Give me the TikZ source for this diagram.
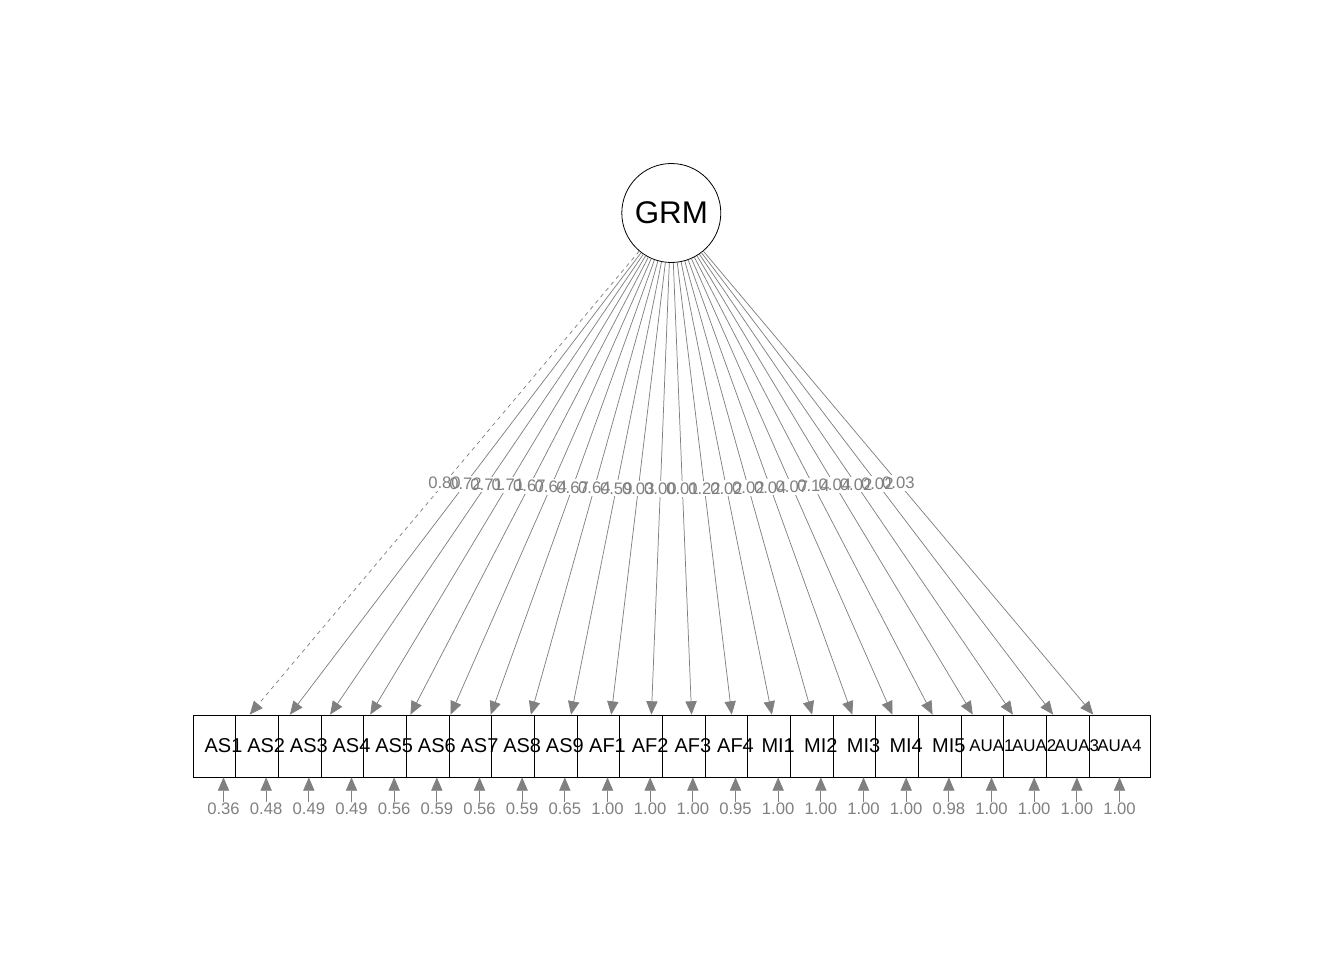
\documentclass[tikz,border=0pt]{standalone}
\usepackage{fontspec}
\setmainfont{Liberation Sans}
\usetikzlibrary{arrows.meta}
\definecolor{edgegray}{RGB}{128,128,128}
\begin{document}
\begin{tikzpicture}[x=0.75pt,y=-0.75pt,
  box/.style={draw=black, fill=white, line width=0.6pt, minimum width=45.75pt, minimum height=46.5pt, inner sep=0pt},
  lat/.style={draw=black, fill=white, circle, line width=0.6pt, minimum size=74.25pt, inner sep=0pt, font=\fontsize{23.5}{28}\selectfont},
  edge/.style={draw=edgegray, line width=0.55pt, -{Triangle[length=10pt,width=8.5pt]}},
  elab/.style={text=edgegray, font=\fontsize{12.5}{15}\selectfont, inner sep=1pt},
  elabbg/.style={fill=white, font=\fontsize{12.5}{15}\selectfont, inner sep=1.5pt},
  blab/.style={inner sep=0pt, font=\fontsize{15}{18}\selectfont},
  blabs/.style={inner sep=0pt, font=\fontsize{12.7}{15}\selectfont}
]
\useasboundingbox (0,0) rectangle (1344,960);
\node[lat] (grm) at (671.3,213) {GRM};
% boxes
\foreach \i in {1,...,22}{
  \pgfmathsetmacro\xx{223.5+42.667*(\i-1)}
  \node[box] (b\i) at (\xx,746) {};
}
% edges
\foreach \i in {1,...,22}{
  \path (grm) -- (b\i) coordinate[pos=0.5] (m\i);
}
\draw[edge, dash pattern=on 3pt off 3pt] (grm) -- (b1);
\foreach \i in {2,...,22}{
  \draw[edge] (grm) -- (b\i);
}
% edge label backgrounds
\foreach \i/\l in {1/0.80,2/0.72,3/0.71,4/0.71,5/0.67,6/0.64,7/0.67,8/0.64,9/0.59,10/0.03,11/0.00,12/0.01,13/0.22,14/0.02,15/0.02,16/0.04,17/0.07,18/0.14,19/0.04,20/0.02,21/0.02,22/0.03}{
  \node[elabbg] (g\i) at (m\i) {\phantom{\l}};
}
% edge labels
\foreach \i/\l in {1/0.80,2/0.72,3/0.71,4/0.71,5/0.67,6/0.64,7/0.67,8/0.64,9/0.59,10/0.03,11/0.00,12/0.01,13/0.22,14/0.02,15/0.02,16/0.04,17/0.07,18/0.14,19/0.04,20/0.02,21/0.02,22/0.03}{
  \node[elab] (e\i) at (m\i) {\l};
}
% box labels
\foreach \i/\t in {1/AS1,2/AS2,3/AS3,4/AS4,5/AS5,6/AS6,7/AS7,8/AS8,9/AS9,10/AF1,11/AF2,12/AF3,13/AF4,14/MI1,15/MI2,16/MI3,17/MI4,18/MI5}{
  \node[blab] (t\i) at (b\i) {\t};
}
\foreach \i/\t in {19/AUA1,20/AUA2,21/AUA3,22/AUA4}{
  \node[blabs] (t\i) at (b\i) {\t};
}
% residuals
\foreach \i/\r in {1/0.36,2/0.48,3/0.49,4/0.49,5/0.56,6/0.59,7/0.56,8/0.59,9/0.65,10/1.00,11/1.00,12/1.00,13/0.95,14/1.00,15/1.00,16/1.00,17/1.00,18/0.98,19/1.00,20/1.00,21/1.00,22/1.00}{
  \pgfmathsetmacro\xx{223.5+42.667*(\i-1)}
  \node[elab] (r\i) at (\xx,809) {\r};
  \draw[edge] (r\i.north) -- (b\i.south);
}
\end{tikzpicture}
\end{document}
